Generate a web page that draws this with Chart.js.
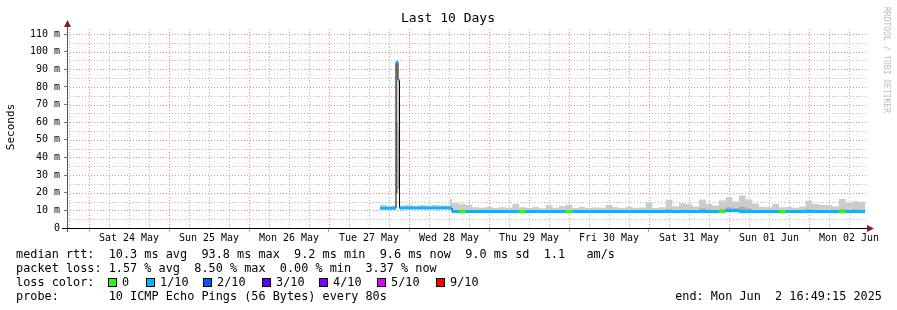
<!DOCTYPE html>
<html lang="en">
<head>
<meta charset="UTF-8">
<title>Last 10 Days</title>
<script src="https://cdn.jsdelivr.net/npm/chart.js"></script>
<style>
  html, body { margin: 0; padding: 0; background: #fff; }
  canvas { display: block; }
</style>
</head>
<body>
<canvas id="smoke" width="897" height="310"></canvas>
<script>
// x values are hours since Sat 24 May 00:00; each sample holds until the next one
const sampleHours = [87.3, 89.3, 91.0, 92.1, 92.7, 93.15, 95, 97, 99, 101, 103, 105, 107, 108.3,
  108.9, 111, 113, 115, 117, 119, 121, 123, 125, 127, 129, 131, 133, 135, 137, 139, 141, 143, 145,
  147, 149, 151, 153, 155, 157, 159, 161, 163, 165, 167, 169, 171, 173, 175, 177, 179, 181, 183,
  185, 187, 189, 191, 193, 195, 197, 199, 201, 203, 205, 207, 209, 211, 213, 215, 217, 219, 221,
  223, 225, 227, 229, 231, 232.8];

// median rtt in ms
const medianRtt = [11.2, 11.2, 11.2, 94.0, 84.0, 11.3, 11.3, 11.3, 11.3, 11.3, 11.3, 11.3, 11.3, 11.3,
  9.3, 9.3, 9.3, 9.3, 9.3, 9.3, 9.3, 9.3, 9.3, 9.3, 9.3, 9.3, 9.3, 9.3, 9.3, 9.3, 9.3, 9.3, 9.3,
  9.3, 9.3, 9.3, 9.3, 9.3, 9.3, 9.3, 9.3, 9.3, 9.3, 9.3, 9.3, 9.3, 9.3, 9.3, 9.3, 9.3, 9.3, 9.3,
  9.3, 9.3, 9.3, 9.9, 9.9, 9.3, 9.3, 9.3, 9.3, 9.3, 9.3, 9.3, 9.3, 9.3, 9.3, 9.3, 9.3, 9.3, 9.3,
  9.3, 9.3, 9.3, 9.3, 9.3, 9.3];

// smoke: lowest ping, inner band and highest ping (ms)
const smokeLow = [11.2, 11.2, 11.2, 20.0, 22.0, 11.3, 11.3, 11.3, 11.3, 11.3, 11.3, 11.3, 11.3, 11.3,
  9.3, 9.3, 9.3, 9.3, 9.3, 9.3, 9.3, 9.3, 9.3, 9.3, 9.3, 9.3, 9.3, 9.3, 9.3, 9.3, 9.3, 9.3, 9.3,
  9.3, 9.3, 9.3, 9.3, 9.3, 9.3, 9.3, 9.3, 9.3, 9.3, 9.3, 9.3, 9.3, 9.3, 9.3, 9.3, 9.3, 9.3, 9.3,
  9.3, 9.3, 9.3, 9.9, 9.9, 9.3, 9.3, 9.3, 9.3, 9.3, 9.3, 9.3, 9.3, 9.3, 9.3, 9.3, 9.3, 9.3, 9.3,
  9.3, 9.3, 9.3, 9.3, 9.3, 9.3];
const smokeMid = [11.6, 11.5, 11.6, 60, 55, 11.6, 11.7, 11.6, 11.6, 11.6, 11.7, 11.6, 11.6, 12.2,
  10.2, 10.0, 9.9, 9.7, 9.7, 9.8, 9.7, 9.8, 9.7, 10.0, 9.8, 9.7, 9.8, 9.7, 9.9, 9.7, 9.8, 9.9, 9.7,
  9.8, 9.7, 9.8, 9.7, 9.9, 9.8, 9.7, 9.8, 9.7, 9.8, 10.0, 9.7, 9.8, 10.6, 10.0, 10.4, 10.2, 10.0, 11.0,
  10.4, 10.2, 10.8, 11.6, 11.2, 12.0, 11.0, 10.2, 9.8, 9.7, 10.0, 9.7, 9.8, 9.7, 9.8, 10.6, 10.2, 10.0, 10.0,
  9.9, 10.8, 10.4, 10.6, 10.4, 10.4];
const smokeHigh = [13.2, 12.4, 12.8, 94, 84, 12.8, 13.2, 12.6, 13.0, 12.7, 13.0, 12.7, 12.9, 16.5,
  14.0, 13.6, 13.0, 11.7, 11.5, 11.9, 11.3, 11.8, 11.5, 13.6, 11.7, 11.3, 11.9, 11.2, 12.9, 11.5, 12.5, 13.2, 11.4,
  12.0, 11.3, 11.6, 11.5, 13.0, 11.8, 11.3, 12.0, 11.5, 11.6, 14.6, 11.3, 11.8, 16.0, 12.4, 14.0, 13.4, 12.2, 16.2,
  13.6, 12.8, 15.6, 17.4, 15.0, 18.4, 16.2, 13.8, 12.0, 11.7, 13.6, 11.7, 11.9, 11.5, 12.2, 15.4, 13.6, 13.2, 13.0,
  12.2, 16.4, 14.4, 15.2, 14.8, 14.8];

// lost pings per sample -> index into lossColors
const lossIdx = [1, 1, 1, 1, 1, 1, 1, 1, 1, 1, 1, 1, 1, 1,
  1, 0, 1, 1, 1, 1, 1, 1, 1, 1, 0, 1, 1, 1, 1, 1, 1, 0, 1,
  1, 1, 1, 1, 1, 1, 1, 1, 1, 1, 1, 1, 1, 1, 1, 1, 1, 1, 1,
  1, 1, 0, 1, 1, 1, 1, 1, 1, 1, 1, 0, 1, 1, 1, 1, 1, 1, 1,
  1, 0, 1, 1, 1, 1];

const lossColors = ['#26ff00', '#00b8ff', '#0059ff', '#5e00ff', '#7e00ff', '#dd00ff', '#ff0000'];
const lossLabels = ['0', '1/10', '2/10', '3/10', '4/10', '5/10', '9/10'];
const dayLabels = ['Sat 24 May', 'Sun 25 May', 'Mon 26 May', 'Tue 27 May', 'Wed 28 May',
  'Thu 29 May', 'Fri 30 May', 'Sat 31 May', 'Sun 01 Jun', 'Mon 02 Jun'];

const statLines = [
  'median rtt:  10.3 ms avg  93.8 ms max  9.2 ms min  9.6 ms now  9.0 ms sd  1.1   am/s',
  'packet loss: 1.57 % avg  8.50 % max  0.00 % min  3.37 % now',
  'loss color:',
  'probe:       10 ICMP Echo Pings (56 Bytes) every 80s'
];
const endText = 'end: Mon Jun  2 16:49:15 2025';

const MONO = '"DejaVu Sans Mono", monospace';
const RED_GRID = 'rgb(240,140,140)';
const GRAY_GRID = 'rgb(185,185,185)';
const CLEAR = 'rgba(0,0,0,0)';

function pts(vals) {
  return sampleHours.map((h, i) => ({ x: h, y: vals[i] }));
}

// loss coloured median: each sample as its own flat piece
const lossLine = [];
for (let i = 0; i < sampleHours.length - 1; i++) {
  lossLine.push({ x: sampleHours[i], y: medianRtt[i] });
  lossLine.push({ x: sampleHours[i + 1], y: medianRtt[i] });
}

// dotted rrdtool style grid, drawn behind the data
const dotGrid = {
  id: 'dotGrid',
  beforeDatasetsDraw(chart) {
    const c = chart.ctx;
    const a = chart.chartArea;
    const xs = chart.scales.x;
    const ys = chart.scales.y;
    c.save();
    c.lineWidth = 1;
    c.setLineDash([1, 2]);
    xs.ticks.forEach(t => {
      const px = Math.round(xs.getPixelForValue(t.value)) + 0.5;
      if (px <= a.left + 1) return;
      c.strokeStyle = t.value % 24 === 0 ? RED_GRID : GRAY_GRID;
      c.beginPath();
      c.moveTo(px, a.bottom);
      c.lineTo(px, a.top);
      c.stroke();
    });
    ys.ticks.forEach(t => {
      if (t.value === 0) return;
      const py = Math.round(ys.getPixelForValue(t.value)) + 0.5;
      c.strokeStyle = t.value % 10 === 0 ? RED_GRID : GRAY_GRID;
      c.beginPath();
      c.moveTo(a.left, py);
      c.lineTo(a.right, py);
      c.stroke();
    });
    c.restore();
  }
};

const decor = {
  id: 'decor',
  afterDraw(chart) {
    const c = chart.ctx;
    const a = chart.chartArea;
    c.save();

    // axes and arrows
    c.strokeStyle = '#555';
    c.lineWidth = 1;
    c.beginPath();
    c.moveTo(a.left + 0.5, a.bottom + 4);
    c.lineTo(a.left + 0.5, a.top - 4);
    c.stroke();
    c.strokeStyle = '#000';
    c.beginPath();
    c.moveTo(a.left - 5, a.bottom + 0.5);
    c.lineTo(a.right + 1, a.bottom + 0.5);
    c.stroke();
    c.fillStyle = '#8b1c1c';
    c.beginPath();
    c.moveTo(a.right, a.bottom - 3);
    c.lineTo(a.right + 7, a.bottom + 0.5);
    c.lineTo(a.right, a.bottom + 4);
    c.closePath();
    c.fill();
    c.beginPath();
    c.moveTo(a.left - 3, a.top);
    c.lineTo(a.left + 0.5, a.top - 7);
    c.lineTo(a.left + 4, a.top);
    c.closePath();
    c.fill();

    // title
    c.fillStyle = '#000';
    c.font = '13px ' + MONO;
    c.textAlign = 'center';
    c.textBaseline = 'middle';
    c.fillText('Last 10 Days', 448, 19);

    // y title
    c.save();
    c.translate(11, 127);
    c.rotate(-Math.PI / 2);
    c.font = '11px ' + MONO;
    c.fillText('Seconds', 0, 0);
    c.restore();

    // credit
    c.save();
    c.translate(886, 60);
    c.rotate(Math.PI / 2);
    c.fillStyle = '#bbb';
    c.font = '8px ' + MONO;
    c.fillText('RRDTOOL / TOBI OETIKER', 0, 0);
    c.restore();

    // legend lines
    c.font = '11.85px ' + MONO;
    c.textAlign = 'left';
    const rows = [254.5, 268.5, 282.5, 296.5];
    statLines.forEach((s, i) => c.fillText(s, 16, rows[i]));
    const boxX = [108, 146, 203, 262, 319, 377, 436];
    lossColors.forEach((col, i) => {
      c.fillStyle = col;
      c.fillRect(boxX[i], 278, 9, 9);
      c.strokeStyle = '#000';
      c.strokeRect(boxX[i] + 0.5, 278.5, 8, 8);
      c.fillStyle = '#000';
      c.fillText(lossLabels[i], boxX[i] + 14, rows[2]);
    });
    c.textAlign = 'right';
    c.fillText(endText, 882, rows[3]);
    c.restore();
  }
};

new Chart(document.getElementById('smoke'), {
  type: 'line',
  data: {
    datasets: [
      { data: pts(smokeLow), stepped: 'before', borderWidth: 0, pointRadius: 0, fill: false, order: 6 },
      { data: pts(smokeHigh), stepped: 'before', borderWidth: 0, pointRadius: 0,
        fill: '-1', backgroundColor: 'rgb(204,204,204)', order: 5 },
      { data: pts(smokeMid), stepped: 'before', borderWidth: 0, pointRadius: 0,
        fill: '-2', backgroundColor: 'rgb(170,170,170)', order: 4 },
      { data: pts(medianRtt), stepped: 'before', borderWidth: 1, borderColor: '#000',
        pointRadius: 0, fill: false, order: 3 },
      { data: lossLine, borderWidth: 3, borderColor: lossColors[1], borderCapStyle: 'butt',
        pointRadius: 0, fill: false, order: 1,
        segment: {
          borderColor: ctx => ctx.p0.parsed.y !== ctx.p1.parsed.y
            ? CLEAR
            : lossColors[lossIdx[Math.floor(ctx.p0DataIndex / 2)]]
        } }
    ]
  },
  options: {
    responsive: false,
    animation: false,
    devicePixelRatio: 1,
    layout: { padding: { left: 0, right: 30, top: 27, bottom: 62 } },
    plugins: { legend: { display: false }, tooltip: { enabled: false }, title: { display: false } },
    scales: {
      x: {
        type: 'linear',
        min: -6.6,
        max: 233.4,
        afterFit(scale) { scale.height = 20; },
        afterBuildTicks(scale) {
          const t = [];
          for (let h = -6; h <= 233; h += 6) t.push({ value: h });
          scale.ticks = t;
        },
        border: { display: false },
        grid: {
          drawOnChartArea: false,
          tickColor: ctx => (ctx.tick && ctx.tick.value % 24 === 0 ? RED_GRID : CLEAR),
          tickLength: 4
        },
        ticks: {
          autoSkip: false,
          maxRotation: 0,
          padding: 0,
          color: '#000',
          font: { family: MONO, size: 10 },
          callback: v => (v % 24 === 12 ? dayLabels[(v - 12) / 24] : '')
        }
      },
      y: {
        min: 0,
        max: 114,
        afterFit(scale) { scale.width = 67; },
        afterBuildTicks(scale) {
          const t = [];
          for (let v = 0; v <= 110; v += 5) t.push({ value: v });
          scale.ticks = t;
        },
        border: { display: false },
        grid: {
          drawOnChartArea: false,
          tickColor: ctx => (ctx.tick && ctx.tick.value % 10 === 0 ? '#777' : CLEAR),
          tickLength: 3
        },
        ticks: {
          autoSkip: false,
          padding: 4,
          color: '#000',
          font: { family: MONO, size: 10 },
          callback: v => (v % 10 !== 0 ? '' : (v === 0 ? '0' : v + ' m'))
        }
      }
    }
  },
  plugins: [dotGrid, decor]
});
</script>
</body>
</html>
